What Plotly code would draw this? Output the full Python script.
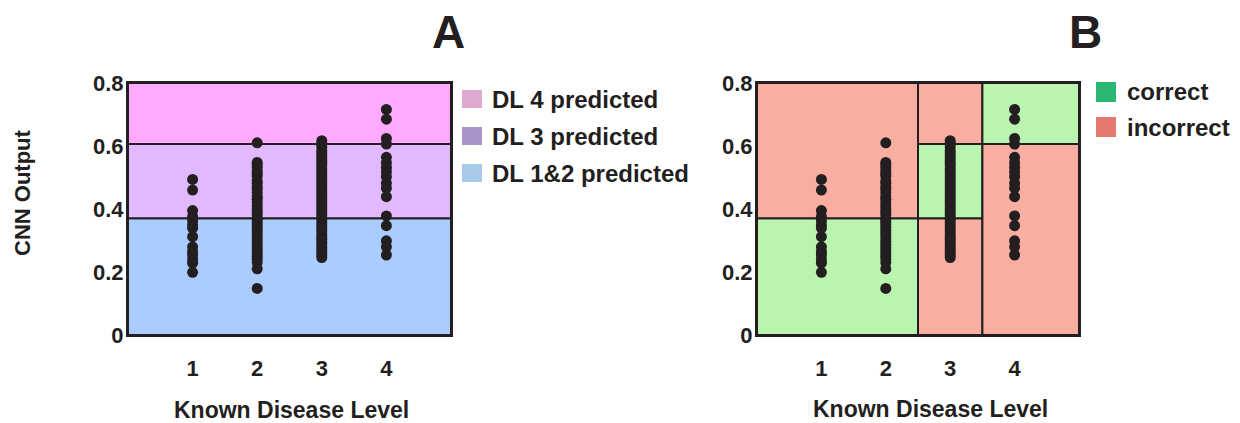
import plotly.graph_objects as go

# ---------------- data ----------------
levels = [1, 2, 3, 4]
level_labels = ["1", "2", "3", "4"]

dl1 = [0.494, 0.460, 0.395, 0.376, 0.363, 0.349, 0.339, 0.312, 0.280, 0.265,
       0.254, 0.240, 0.228, 0.199]
dl2 = [0.610, 0.548, 0.540, 0.531, 0.520, 0.512, 0.505, 0.490, 0.482, 0.470,
       0.463, 0.452, 0.440, 0.431, 0.420, 0.410, 0.400, 0.392, 0.383, 0.372,
       0.366, 0.358, 0.350, 0.342, 0.333, 0.325, 0.316, 0.305, 0.296, 0.287,
       0.278, 0.268, 0.260, 0.250, 0.241, 0.230, 0.210, 0.148]
dl3 = [0.617, 0.608, 0.598, 0.585, 0.578, 0.570, 0.561, 0.552, 0.545, 0.537,
       0.528, 0.519, 0.511, 0.502, 0.494, 0.486, 0.477, 0.468, 0.459, 0.451,
       0.443, 0.434, 0.425, 0.417, 0.408, 0.399, 0.390, 0.382, 0.373, 0.365,
       0.356, 0.347, 0.338, 0.330, 0.321, 0.312, 0.304, 0.295, 0.287, 0.278,
       0.270, 0.262, 0.254, 0.246]
dl4 = [0.716, 0.685, 0.624, 0.606, 0.564, 0.547, 0.532, 0.518, 0.503, 0.482,
       0.466, 0.439, 0.378, 0.347, 0.299, 0.280, 0.254]
cnn_by_level = [dl1, dl2, dl3, dl4]

low_threshold = 0.371   # DL 1&2 / DL 3 boundary
high_threshold = 0.606  # DL 3 / DL 4 boundary
y_max = 0.8
x_max = 5

y_ticks = [0, 0.2, 0.4, 0.6, 0.8]
y_tick_labels = ["0", "0.2", "0.4", "0.6", "0.8"]

legend_a = ["DL 4 predicted", "DL 3 predicted", "DL 1&2 predicted"]
legend_b = ["correct", "incorrect"]

# ---------------- styles ----------------
INK = "#231F20"
FONT = "Liberation Sans, Arial, Helvetica, sans-serif"
A_TOP, A_MID, A_LOW = "#FFAAFF", "#E2B9FF", "#AACCFF"
B_RED, B_GREEN = "#F9AEA1", "#B9F5AE"
LEG_A = ["#E0A9CF", "#A894C9", "#A8CAEA"]
LEG_B = ["#2BB673", "#E57970"]

fig = go.Figure()

for xref, yref in [("x", "y"), ("x2", "y2")]:
    xs, ys = [], []
    for lvl, vals in zip(levels, cnn_by_level):
        xs += [lvl] * len(vals)
        ys += vals
    fig.add_trace(go.Scatter(x=xs, y=ys, mode="markers", xaxis=xref, yaxis=yref,
                             marker=dict(size=11, color=INK, line=dict(width=0)),
                             showlegend=False, hoverinfo="skip", cliponaxis=False))

shapes = []
def rect(xr, yr, x0, x1, y0, y1, color):
    shapes.append(dict(type="rect", xref=xr, yref=yr, x0=x0, x1=x1, y0=y0, y1=y1,
                       fillcolor=color, line=dict(color=INK, width=2), layer="below"))

# Panel A bands
rect("x", "y", 0, x_max, 0, low_threshold, A_LOW)
rect("x", "y", 0, x_max, low_threshold, high_threshold, A_MID)
rect("x", "y", 0, x_max, high_threshold, y_max, A_TOP)

# Panel B correctness regions
rect("x2", "y2", 0, 2.5, 0, low_threshold, B_GREEN)
rect("x2", "y2", 0, 2.5, low_threshold, y_max, B_RED)
rect("x2", "y2", 2.5, 3.5, 0, low_threshold, B_RED)
rect("x2", "y2", 2.5, 3.5, low_threshold, high_threshold, B_GREEN)
rect("x2", "y2", 2.5, 3.5, high_threshold, y_max, B_RED)
rect("x2", "y2", 3.5, x_max, 0, high_threshold, B_RED)
rect("x2", "y2", 3.5, x_max, high_threshold, y_max, B_GREEN)

W, H = 1240, 423
def px(x):
    return x / W
def py(y):
    return 1 - y / H

annotations = []
def text(x, y, s, size, xanchor="center", angle=0):
    annotations.append(dict(x=px(x), y=py(y), xref="paper", yref="paper", text=s,
                            showarrow=False, xanchor=xanchor, yanchor="middle",
                            textangle=angle,
                            font=dict(family=FONT, size=size, color=INK, weight="bold")))

# Legend A
leg_a_y = [99, 136, 173]
for label, color, yc in zip(legend_a, LEG_A, leg_a_y):
    shapes.append(dict(type="rect", xref="paper", yref="paper", x0=px(462), x1=px(482),
                       y0=py(yc + 9), y1=py(yc - 9), fillcolor=color, line=dict(width=0)))
    text(490, yc, label, 24, xanchor="left")

# Legend B
leg_b_y = [92, 127]
for label, color, yc in zip(legend_b, LEG_B, leg_b_y):
    shapes.append(dict(type="rect", xref="paper", yref="paper", x0=px(1096), x1=px(1116),
                       y0=py(yc + 10), y1=py(yc - 10), fillcolor=color, line=dict(width=0)))
    text(1125, yc, label, 24, xanchor="left")

# Titles and axis labels
text(448, 32, "A", 46)
text(1085, 32, "B", 46)
text(291, 410, "Known Disease Level", 23)
text(930, 409, "Known Disease Level", 23)
text(22, 193, "CNN Output", 22, angle=-90)

y_dom = [py(335), py(83)]
axis_font = dict(family=FONT, size=22, color=INK, weight="bold")
common_x = dict(range=[0, x_max], tickvals=levels, ticktext=level_labels,
                showline=True, mirror=True, linecolor=INK, linewidth=2,
                showgrid=False, zeroline=False, ticks="", tickfont=axis_font,
                ticklabelstandoff=13, automargin=False)
common_y = dict(range=[0, y_max], tickvals=y_ticks, ticktext=y_tick_labels,
                showline=True, mirror=True, linecolor=INK, linewidth=2,
                showgrid=False, zeroline=False, ticks="", tickfont=axis_font,
                ticklabelstandoff=-2, domain=y_dom, automargin=False)

fig.update_layout(
    width=W, height=H,
    margin=dict(l=0, r=0, t=0, b=0, pad=0, autoexpand=False),
    paper_bgcolor="white", plot_bgcolor="white",
    showlegend=False,
    xaxis=dict(domain=[px(128), px(451)], anchor="y", **common_x),
    yaxis=dict(anchor="x", **common_y),
    xaxis2=dict(domain=[px(757), px(1079)], anchor="y2", **common_x),
    yaxis2=dict(anchor="x2", **common_y),
    shapes=shapes,
    annotations=annotations,
)

fig.write_html("out.html")
